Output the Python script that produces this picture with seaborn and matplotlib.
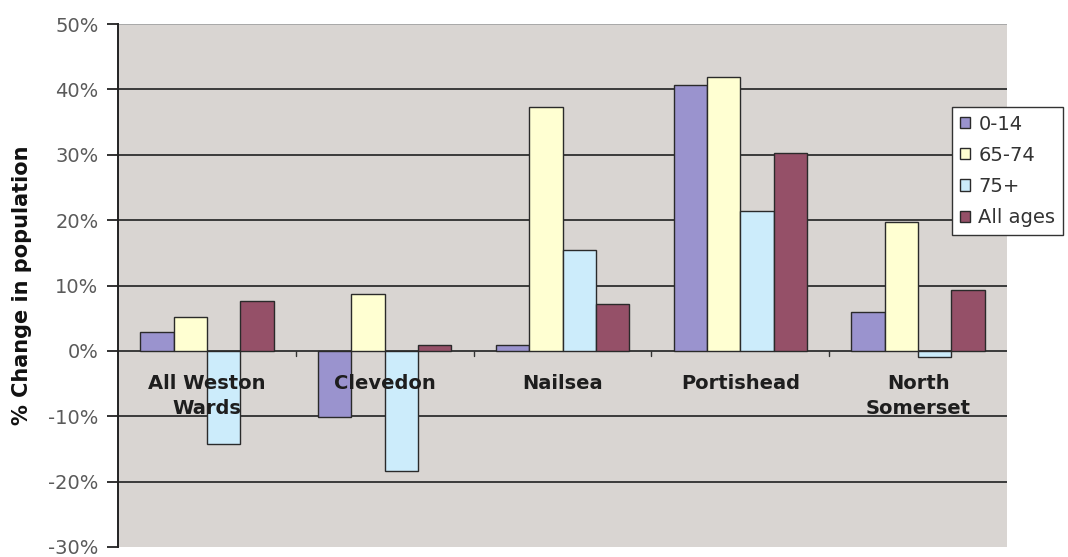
import matplotlib
matplotlib.use("Agg")
import matplotlib.pyplot as plt
import seaborn as sns
import pandas as pd

# Percentage change in population by area and age band
areas = ["All Weston\nWards", "Clevedon", "Nailsea", "Portishead", "North\nSomerset"]
age_groups = ["0-14", "65-74", "75+", "All ages"]
change_0_14 = [2.9, -10.1, 0.9, 40.6, 6.0]
change_65_74 = [5.2, 8.7, 37.3, 41.9, 19.7]
change_75_plus = [-14.2, -18.3, 15.5, 21.4, -0.9]
change_all = [7.7, 0.9, 7.2, 30.2, 9.3]
y_ticks = [-30, -20, -10, 0, 10, 20, 30, 40, 50]

colors = ["#9A93CE", "#FFFFD2", "#CCECFB", "#955068"]

series = [change_0_14, change_65_74, change_75_plus, change_all]
df = pd.DataFrame(
    [(a, g, v / 100.0) for g, vals in zip(age_groups, series) for a, v in zip(areas, vals)],
    columns=["area", "age", "change"],
)

sns.set_theme(style="white")
plt.rcParams["font.family"] = ["DejaVu Sans"]

fig = plt.figure(figsize=(10.68, 5.57), dpi=100)
ax = fig.add_axes([118 / 1068, 10 / 557, 889 / 1068, 523 / 557])
ax.set_facecolor("#D9D5D2")

sns.barplot(
    data=df, x="area", y="change", hue="age", hue_order=age_groups,
    order=areas, palette=colors, saturation=1, width=0.75, ax=ax,
    edgecolor="#2a2a2a", linewidth=1.0, legend=True, zorder=3,
)

ax.set_ylim(-0.30, 0.50)
ax.set_xlim(-0.5, len(areas) - 0.5)
ax.set_yticks([t / 100 for t in y_ticks])
ax.set_yticklabels([f"{t}%" for t in y_ticks], color="#5a5a5a", fontsize=14)
ax.tick_params(axis="y", direction="out", length=8, width=1.3, color="#222222", pad=6, left=True)

# horizontal gridlines across the plot area
for t in y_ticks[1:]:
    ax.axhline(t / 100, color="#3a3a3a" if t < 50 else "#a8a8a8", linewidth=1.4, zorder=1)

for side in ["top", "right", "bottom"]:
    ax.spines[side].set_visible(False)
ax.spines["left"].set_color("#222222")
ax.spines["left"].set_linewidth(1.4)

# category labels sit inside the plot, just below the zero line
ax.set_xticks([])
ax.set_xlabel("")
for i, name in enumerate(areas):
    ax.text(i, -0.036, name, ha="center", va="top", fontsize=14, fontweight="bold",
            color="#1e1e1e", linespacing=1.4, zorder=4)

# small separator ticks on the zero line between categories
for b in range(1, len(areas)):
    ax.plot([b - 0.5, b - 0.5], [0, -0.008], color="#333333", linewidth=1.0, zorder=2)

ax.set_ylabel("% Change in population", fontsize=15, fontweight="bold", color="#111111", labelpad=12)

handles, labels = ax.get_legend_handles_labels()
ax.legend_.remove()
leg = fig.legend(
    handles, labels, loc="upper left", bbox_to_anchor=(952 / 1068, 1 - 107 / 557),
    frameon=True, fancybox=False, framealpha=1, fontsize=14, handlelength=0.5,
    handleheight=0.5, handletextpad=0.45, labelspacing=0.62, borderpad=0.4,
    borderaxespad=0,
)
leg.get_frame().set_edgecolor("#333333")
leg.get_frame().set_linewidth(1.0)
leg.get_frame().set_facecolor("white")
for t in leg.get_texts():
    t.set_color("#333333")

fig.savefig("out.png", dpi=100, facecolor="white")
